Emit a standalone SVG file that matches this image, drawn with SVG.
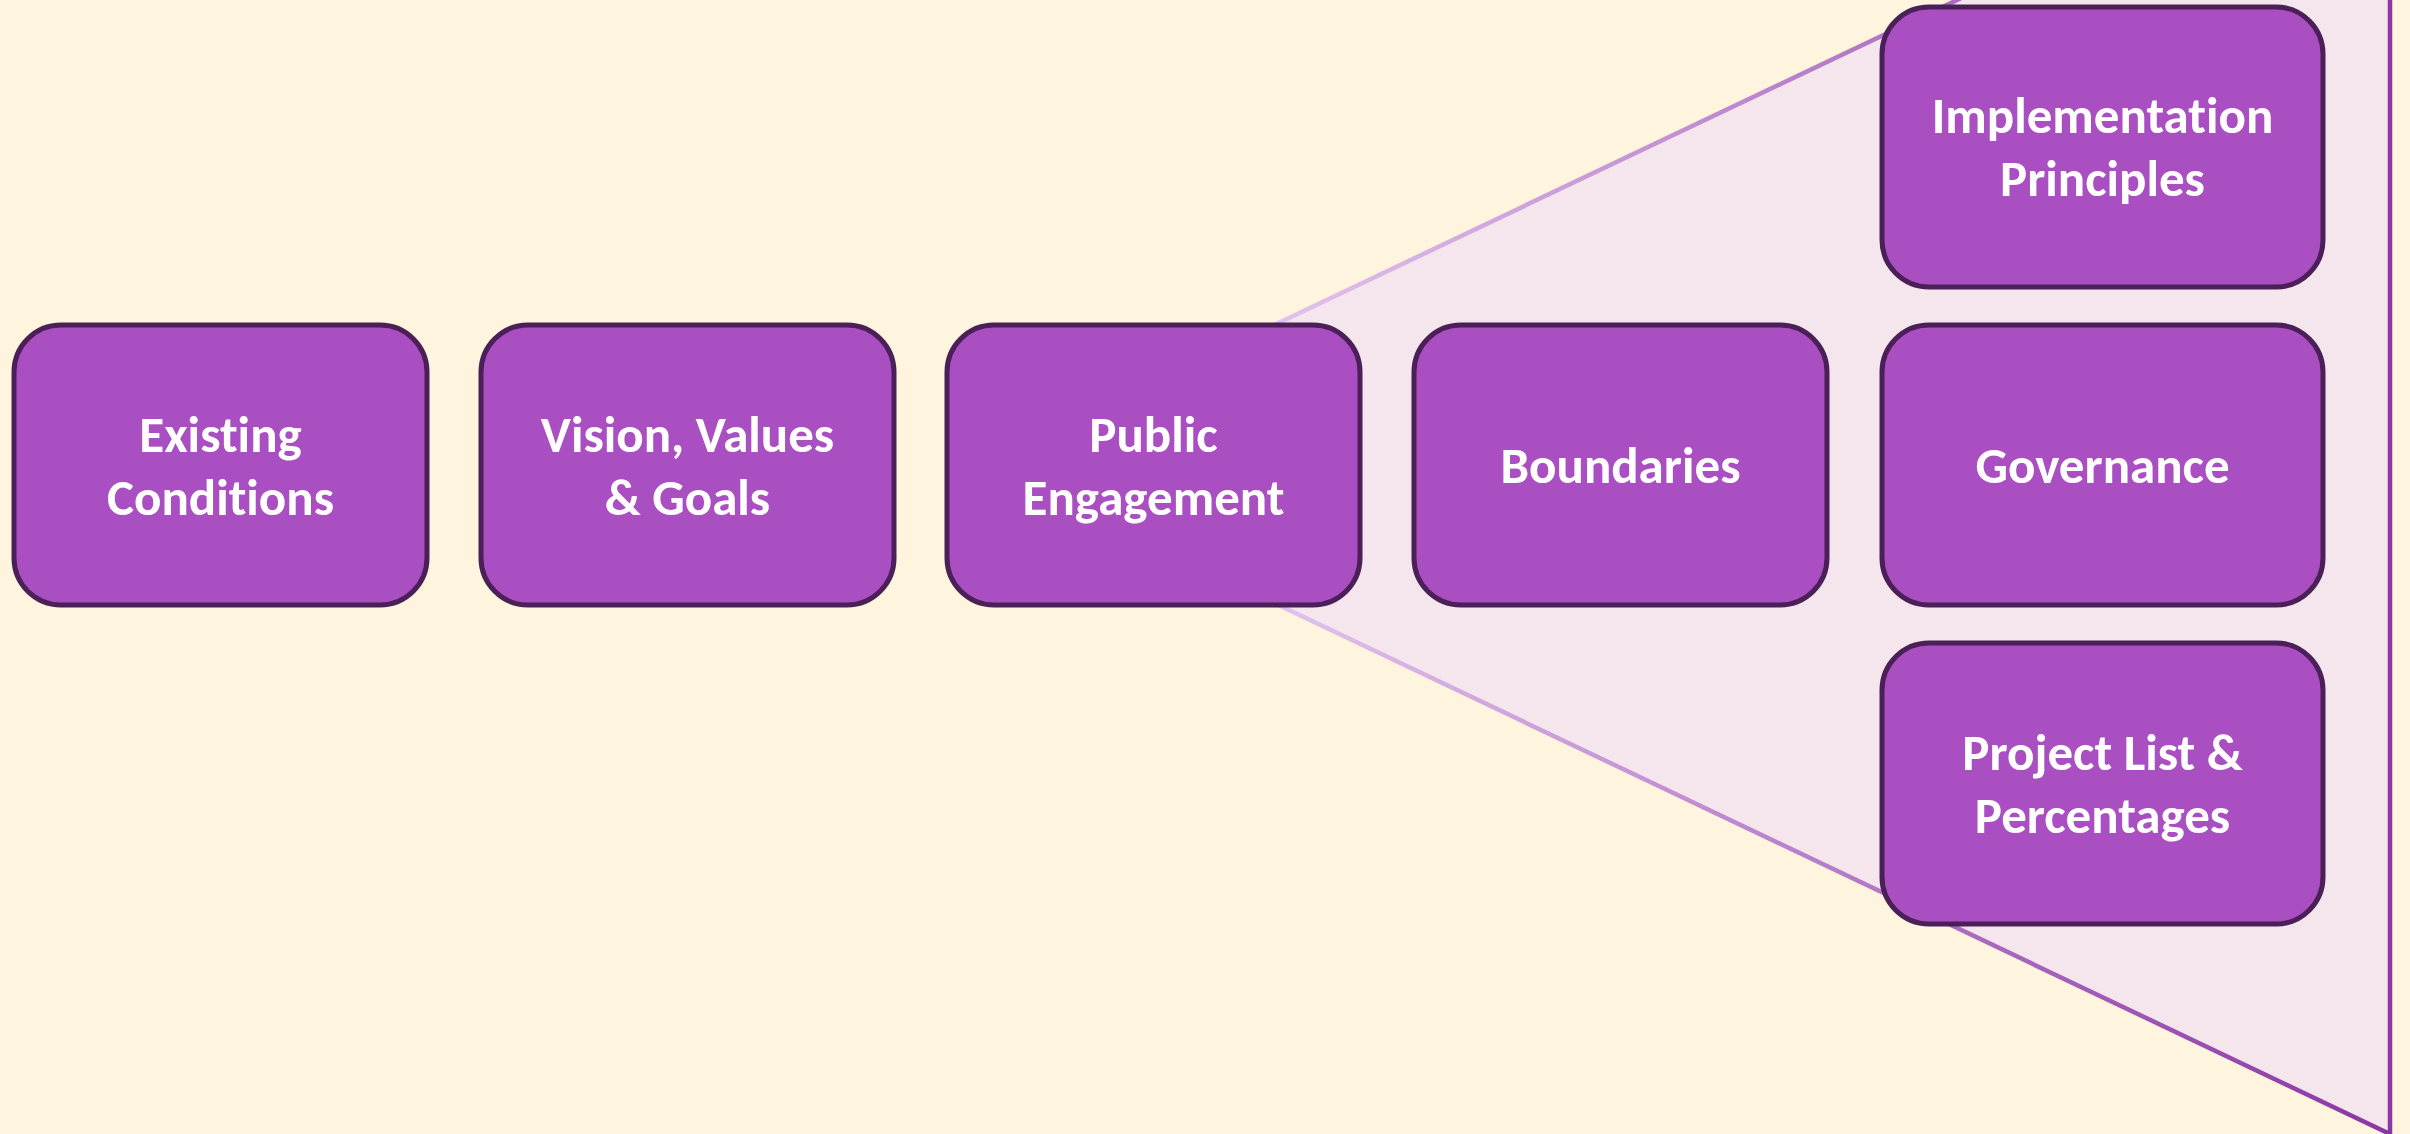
<svg xmlns="http://www.w3.org/2000/svg" width="2410" height="1134" viewBox="0 0 2410 1134">
  <style>
    .box { fill: #A94FC2; stroke: #4B1F57; stroke-width: 5; }
    .lbl { font-family: Carlito, Lato, "Open Sans", sans-serif; font-weight: bold; font-size: 51px; fill: #FFFFFF; text-anchor: middle; font-variant-ligatures: none; font-feature-settings: "liga" 0; }
  </style>
  <defs>
    <linearGradient id="edge" gradientUnits="userSpaceOnUse" x1="1250" y1="0" x2="2390" y2="0">
      <stop offset="0" stop-color="#E3C6EE"/>
      <stop offset="1" stop-color="#8A36A4"/>
    </linearGradient>
  </defs>
  <rect x="0" y="0" width="2410" height="1134" fill="#FFF5DF"/>
  <g id="funnel">
    <polygon points="982,464 2390,-206 2390,1134" fill="#F5E6EE" stroke="url(#edge)" stroke-width="4.5"/>
  </g>
  <g id="existing-conditions">
    <rect class="box" x="14" y="325" width="413" height="280" rx="47"/>
    <text class="lbl" x="220.5" y="452">Existing</text>
    <text class="lbl" x="220.5" y="515">Conditions</text>
  </g>
  <g id="vision-values-goals">
    <rect class="box" x="481" y="325" width="413" height="280" rx="47"/>
    <text class="lbl" x="687.5" y="452">Vision, Values</text>
    <text class="lbl" x="687.5" y="515">&amp; Goals</text>
  </g>
  <g id="public-engagement">
    <rect class="box" x="947" y="325" width="413" height="280" rx="47"/>
    <text class="lbl" x="1153.5" y="452">Public</text>
    <text class="lbl" x="1153.5" y="515">Engagement</text>
  </g>
  <g id="boundaries">
    <rect class="box" x="1414" y="325" width="413" height="280" rx="47"/>
    <text class="lbl" x="1620.5" y="483">Boundaries</text>
  </g>
  <g id="implementation-principles">
    <rect class="box" x="1882" y="7" width="441" height="280" rx="47"/>
    <text class="lbl" x="2102.5" y="133">Implementation</text>
    <text class="lbl" x="2102.5" y="196">Principles</text>
  </g>
  <g id="governance">
    <rect class="box" x="1882" y="325" width="441" height="280" rx="47"/>
    <text class="lbl" x="2102.5" y="483">Governance</text>
  </g>
  <g id="project-list">
    <rect class="box" x="1882" y="643" width="441" height="281" rx="47"/>
    <text class="lbl" x="2102.5" y="770">Project List &amp;</text>
    <text class="lbl" x="2102.5" y="833">Percentages</text>
  </g>
</svg>
